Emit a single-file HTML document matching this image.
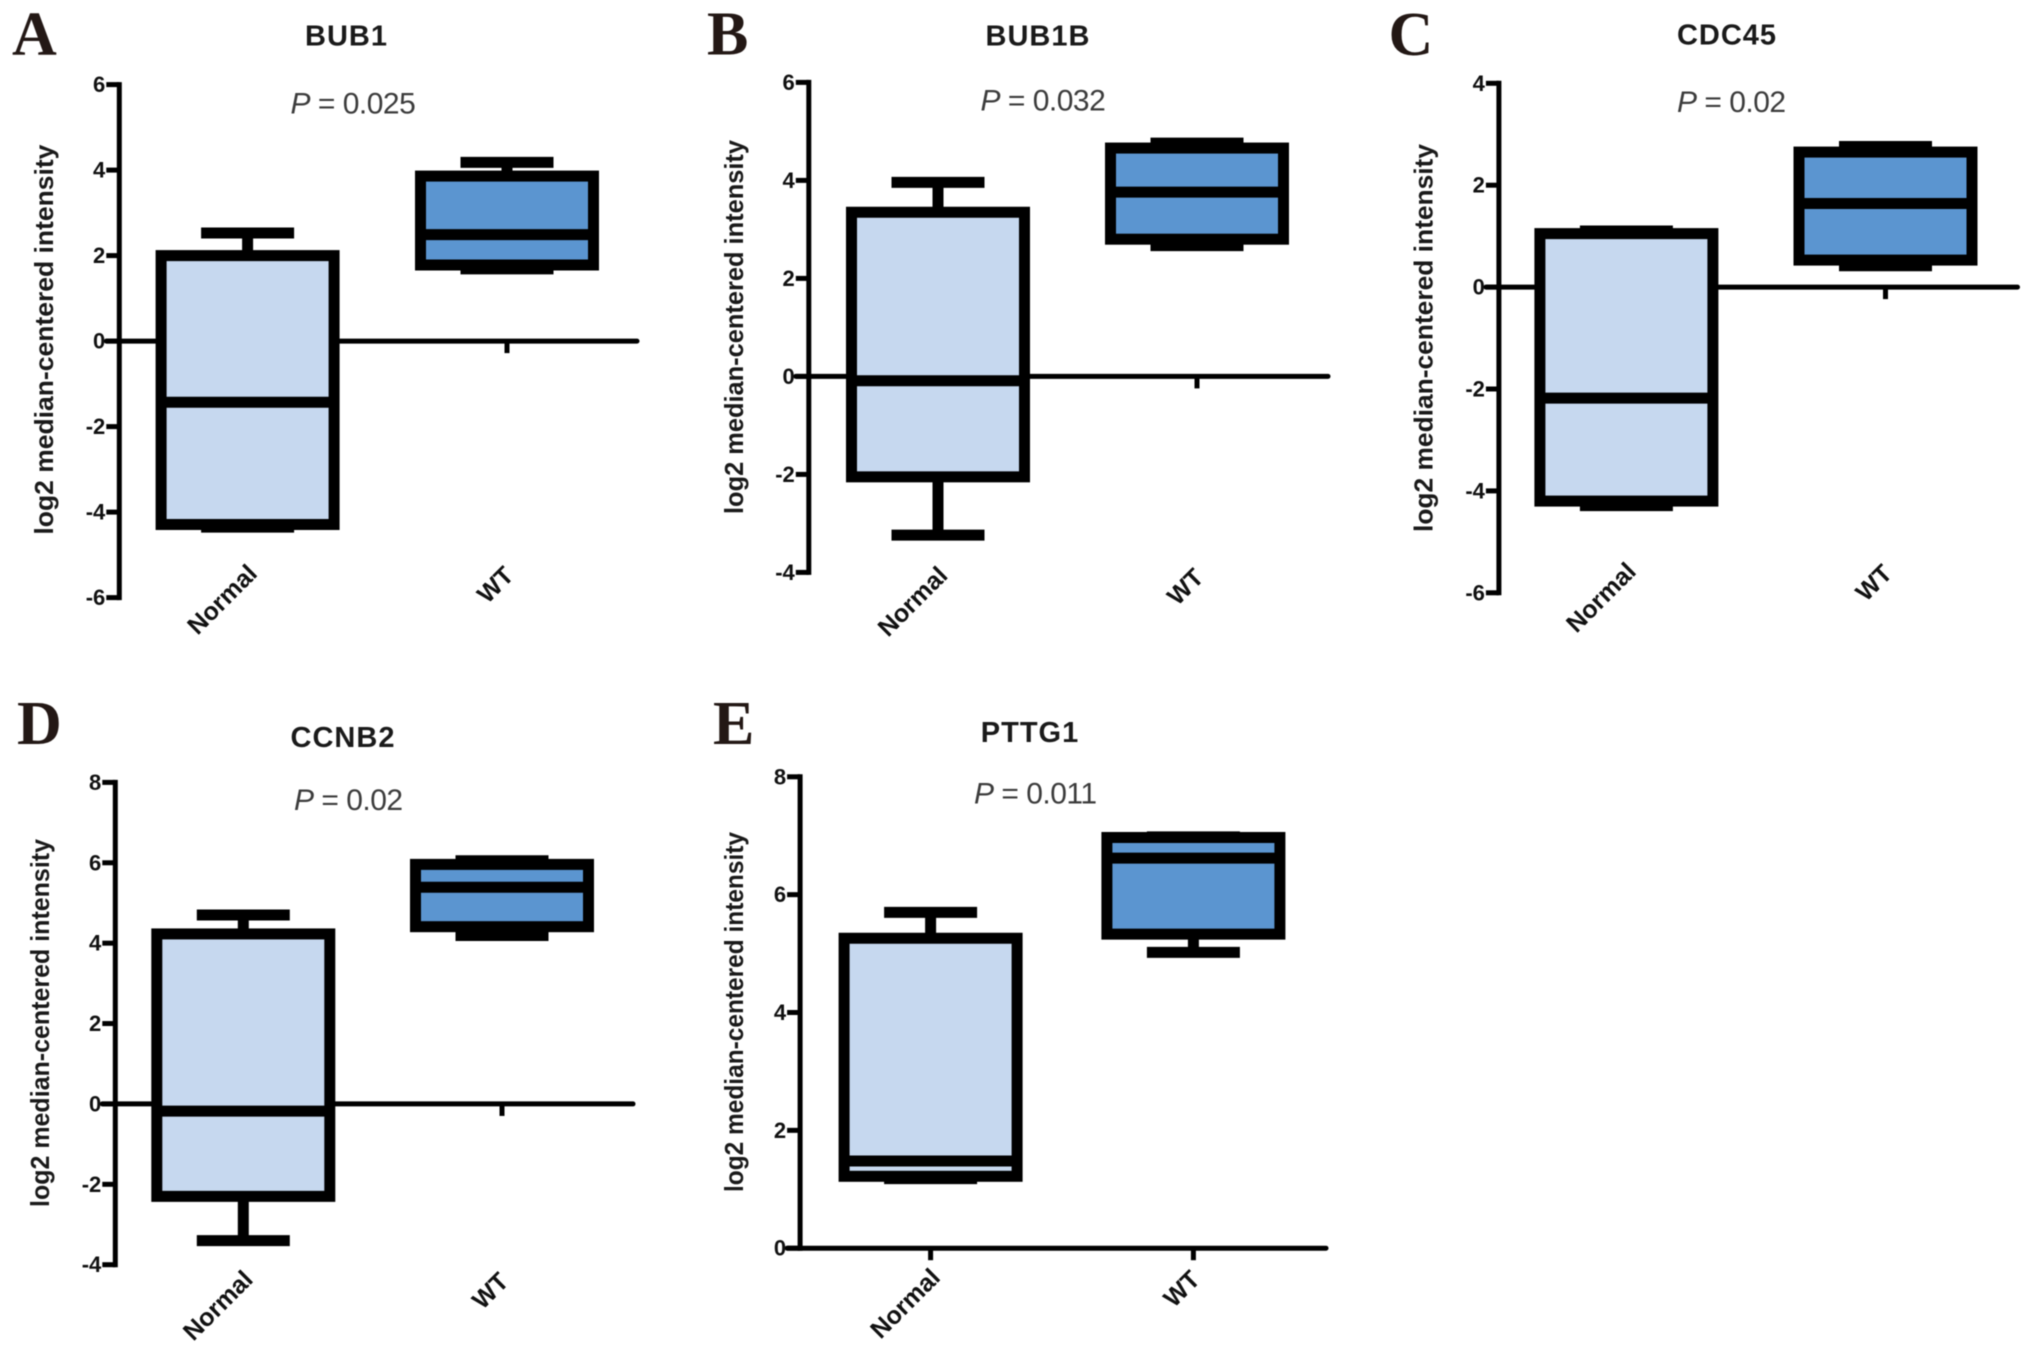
<!DOCTYPE html>
<html lang="en">
<head>
<meta charset="utf-8">
<title>Box plots of gene expression in Normal and WT samples</title>
<style>
html,body{margin:0;padding:0;background:#fff;}
#figure{display:block;width:2031px;height:1351px;filter:blur(0.6px);}
text{font-family:"Liberation Sans",Arial,sans-serif;}
</style>
</head>
<body>
<svg id="figure" xmlns="http://www.w3.org/2000/svg" width="2031" height="1351" viewBox="0 0 2031 1351"></svg>
<script>
// ----- Data: categories, tick labels, titles, p values -----
const categories = ['Normal', 'WT'];
const panelLetters = ['A', 'B', 'C', 'D', 'E'];
const geneTitles = ['BUB1', 'BUB1B', 'CDC45', 'CCNB2', 'PTTG1'];
const pValues = ['0.025', '0.032', '0.02', '0.02', '0.011'];
const yAxisTitle = 'log2 median-centered intensity';

const bub1Ticks = [-6, -4, -2, 0, 2, 4, 6];
const bub1bTicks = [-4, -2, 0, 2, 4, 6];
const cdc45Ticks = [-6, -4, -2, 0, 2, 4];
const ccnb2Ticks = [-4, -2, 0, 2, 4, 6, 8];
const pttg1Ticks = [0, 2, 4, 6, 8];

// Each series: [whisker low, Q1, median, Q3, whisker high]
const bub1Normal = [-4.35, -4.29, -1.43, 2.0, 2.53];
const bub1Wt = [1.69, 1.78, 2.49, 3.86, 4.18];
const bub1bNormal = [-3.24, -2.05, -0.09, 3.35, 3.96];
const bub1bWt = [2.67, 2.8, 3.76, 4.66, 4.76];
const cdc45Normal = [-4.29, -4.2, -2.18, 1.05, 1.1];
const cdc45Wt = [0.42, 0.53, 1.64, 2.65, 2.76];
const ccnb2Normal = [-3.4, -2.3, -0.18, 4.23, 4.7];
const ccnb2Wt = [4.19, 4.41, 5.39, 5.96, 6.05];
const pttg1Normal = [1.18, 1.22, 1.48, 5.26, 5.7];
const pttg1Wt = [5.02, 5.33, 6.62, 6.97, 6.98];

// ----- Layout (pixels), kept apart from the data -----
const panels = [
  {id:'bub1', ticks:bub1Ticks, normal:bub1Normal, wt:bub1Wt, ax:119.3, top:84.6, bottom:597.6, right:637, cx:[247.6,507],
   letter:[12,54.6], title:[346.5,45.5], p:[290.5,113.6], yTitle:[53,339.6,390], labelY:[575,577]},
  {id:'bub1b', ticks:bub1bTicks, normal:bub1bNormal, wt:bub1bWt, ax:808.8, top:82.4, bottom:572.4, right:1328, cx:[938,1197],
   letter:[707,54.6], title:[1038,45.5], p:[980.5,110.6], yTitle:[743,327,374], labelY:[577,579]},
  {id:'cdc45', ticks:cdc45Ticks, normal:cdc45Normal, wt:cdc45Wt, ax:1498.9, top:83.3, bottom:592.8, right:2017.5, cx:[1626.4,1885.5],
   letter:[1388.5,55], title:[1727,44.7], p:[1677,112], yTitle:[1432.5,338,388], labelY:[573,575]},
  {id:'ccnb2', ticks:ccnb2Ticks, normal:ccnb2Normal, wt:ccnb2Wt, ax:115.3, top:782.4, bottom:1264.7, right:633, cx:[243.3,502],
   letter:[17,744], title:[343,747], p:[294,809.8], yTitle:[49,1023,368], labelY:[1281,1283]},
  {id:'pttg1', ticks:pttg1Ticks, normal:pttg1Normal, wt:pttg1Wt, ax:800.1, top:776.8, bottom:1248.2, right:1326, cx:[930.6,1193.4],
   letter:[713,744], title:[1030,742], p:[974,803.3], yTitle:[743,1012,360], labelY:[1279,1281]}
];
const boxHalfWidth = 86.5;
const capHalfWidth = 46.5;
const heavyStroke = 11;
const axisStroke = 5;
const tickLength = 13;
const normalFill = '#c6d8ef';
const wtFill = '#5b95d0';
const inkColor = '#000000';

// ----- Drawing -----
const SVG_NS = 'http://www.w3.org/2000/svg';
const root = document.getElementById('figure');

function make(parent, tag, attrs, content) {
  const el = document.createElementNS(SVG_NS, tag);
  for (const key in attrs) el.setAttribute(key, attrs[key]);
  if (content !== undefined) el.textContent = content;
  parent.appendChild(el);
  return el;
}

function yScaleFor(panel) {
  const lo = Math.min.apply(null, panel.ticks);
  const hi = Math.max.apply(null, panel.ticks);
  return function (value) {
    return panel.bottom - (value - lo) / (hi - lo) * (panel.bottom - panel.top);
  };
}

function drawAxes(group, panel, y) {
  const lo = Math.min.apply(null, panel.ticks);
  const baseValue = lo < 0 ? 0 : lo;
  const vertical = make(group, 'line', {x1:panel.ax, x2:panel.ax, y1:panel.top - axisStroke / 2, y2:panel.bottom + axisStroke / 2, stroke:inkColor, 'stroke-width':axisStroke});
  
  
  const horizontal = make(group, 'line', {x1:panel.ax - tickLength, x2:panel.right, y1:y(baseValue), y2:y(baseValue), stroke:inkColor, 'stroke-width':axisStroke, 'stroke-linecap':'round'});
  
  

  panel.ticks.forEach(function (value) {
    const tick = make(group, 'line', {x1:panel.ax - tickLength, x2:panel.ax, y1:y(value), y2:y(value), stroke:inkColor, 'stroke-width':axisStroke});
    
    
    const label = make(group, 'text', {x:panel.ax - tickLength - 1, y:y(value) + 7.5, 'text-anchor':'end', 'font-size':22, 'font-weight':'bold', fill:'#111'}, String(value));
    
    
  });

  panel.cx.forEach(function (cx) {
    const xTick = make(group, 'line', {x1:cx, x2:cx, y1:y(baseValue), y2:y(baseValue) + 12, stroke:inkColor, 'stroke-width':axisStroke});
    
    
  });

  categories.forEach(function (name, i) {
    const ax = panel.cx[i] + (i === 0 ? 11 : 8);
    const ay = panel.labelY[i];
    const label = make(group, 'text', {x:ax, y:ay, 'text-anchor':'end', 'font-size':25, 'font-weight':'bold', fill:'#111', transform:'rotate(-45 ' + ax + ' ' + ay + ')'}, name);
    
    
  });
}

function drawBox(group, panel, y, cx, stats, fill, seriesName) {
  const low = y(stats[0]), q1 = y(stats[1]), med = y(stats[2]), q3 = y(stats[3]), high = y(stats[4]);

  const upperStem = make(group, 'line', {x1:cx, x2:cx, y1:high, y2:q3, stroke:inkColor, 'stroke-width':heavyStroke});
  
  
  const lowerStem = make(group, 'line', {x1:cx, x2:cx, y1:q1, y2:low, stroke:inkColor, 'stroke-width':heavyStroke});
  
  

  const upperCap = make(group, 'line', {x1:cx - capHalfWidth, x2:cx + capHalfWidth, y1:high, y2:high, stroke:inkColor, 'stroke-width':heavyStroke});
  
  
  const lowerCap = make(group, 'line', {x1:cx - capHalfWidth, x2:cx + capHalfWidth, y1:low, y2:low, stroke:inkColor, 'stroke-width':heavyStroke});
  
  

  const box = make(group, 'rect', {x:cx - boxHalfWidth, y:q3, width:boxHalfWidth * 2, height:q1 - q3, fill:fill, stroke:inkColor, 'stroke-width':heavyStroke});
  
  

  const median = make(group, 'line', {x1:cx - boxHalfWidth, x2:cx + boxHalfWidth, y1:med, y2:med, stroke:inkColor, 'stroke-width':heavyStroke});
  
  
}

panels.forEach(function (panel, i) {
  const y = yScaleFor(panel);
  const group = make(root, 'g', {});
  
  

  const letter = make(group, 'text', {x:panel.letter[0], y:panel.letter[1], 'font-size':62, 'font-weight':'bold', fill:'#231815', style:'font-family:"Liberation Serif",serif'}, panelLetters[i]);
  
  

  const title = make(group, 'text', {x:panel.title[0], y:panel.title[1], 'text-anchor':'middle', 'font-size':29, 'font-weight':'bold', 'letter-spacing':1, fill:'#1a1a1a'}, geneTitles[i]);
  
  

  const pText = make(group, 'text', {x:panel.p[0], y:panel.p[1], 'font-size':30, 'letter-spacing':-0.5, fill:'#3c3c3c'});
  
  
  const pItalic = make(pText, 'tspan', {'font-style':'italic'}, 'P');
  
  
  const pRest = make(pText, 'tspan', {}, ' = ' + pValues[i]);
  
  

  const ty = make(group, 'text', {x:panel.yTitle[0], y:panel.yTitle[1], 'text-anchor':'middle', 'font-size':26, 'font-weight':'bold', fill:'#1a1a1a', textLength:panel.yTitle[2], lengthAdjust:'spacingAndGlyphs', transform:'rotate(-90 ' + panel.yTitle[0] + ' ' + panel.yTitle[1] + ')'}, yAxisTitle);
  
  

  drawAxes(group, panel, y);
  drawBox(group, panel, y, panel.cx[0], panel.normal, normalFill, 'normal');
  drawBox(group, panel, y, panel.cx[1], panel.wt, wtFill, 'wt');
});
</script>
</body>
</html>
